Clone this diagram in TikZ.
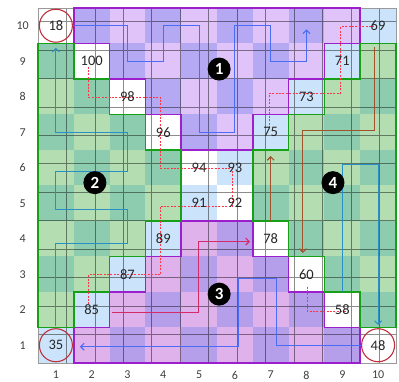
\documentclass[tikz,border=0pt]{standalone}
\usepackage{fontspec}
\setmainfont{Carlito}
\usetikzlibrary{arrows.meta}
\definecolor{ra}{HTML}{E0C3F8}
\definecolor{rb}{HTML}{B6A9F4}
\definecolor{rc}{HTML}{DFB2EC}
\definecolor{rd}{HTML}{B59EEA}
\definecolor{ga}{HTML}{B4DEB2}
\definecolor{gb}{HTML}{8ECCB0}
\definecolor{lb}{HTML}{CCE4FB}
\definecolor{pborder}{HTML}{9B1FCB}
\definecolor{gborder}{HTML}{17A017}
\definecolor{circ}{HTML}{C0303C}
\definecolor{pblue}{HTML}{4A6CF7}
\definecolor{tblue}{HTML}{2A90C4}
\definecolor{brn}{HTML}{A0522D}
\definecolor{crim}{HTML}{D42A6A}
\definecolor{dotred}{HTML}{FF3548}
\begin{document}
\begin{tikzpicture}[x=35.8pt,y=35.5pt,
  cellnum/.style={font=\fontsize{14.5}{14.5}\selectfont, text=black!85, inner sep=0pt},
  axislbl/.style={font=\fontsize{12}{12}\selectfont, text=black!75, inner sep=0pt},
  ring/.style={circle, draw=circ, line width=1.1pt, minimum size=33pt, inner sep=0pt, font=\fontsize{14.5}{14.5}\selectfont, text=black!85},
  marker/.style={circle, fill=black, text=white, minimum size=23pt, inner sep=0pt, font=\bfseries\fontsize{17}{17}\selectfont},
  flow/.style={line width=1.1pt, -{Straight Barb[length=3.5pt,width=7pt]}},
  dots/.style={draw=dotred, line width=1pt, dash pattern=on 2pt off 1.4pt},
  pregion/.style={draw=pborder, line width=1.6pt, line join=miter},
  gregion/.style={draw=gborder, line width=1.6pt, line join=miter},
  gridline/.style={black, opacity=0.45, line width=0.7pt}
]
\useasboundingbox (-1.061,-0.535) rectangle (10.084,10.225);
\fill[white] (-1.061,-0.535) rectangle (10.084,10.225);
% region 1
\foreach \r/\a/\b in {10/2/9, 9/3/8, 8/4/7, 7/5/6}
  \foreach \c in {\a,...,\b}{
    \ifodd\numexpr\c+\r\relax \fill[ra] (\c-1,\r-1) rectangle (\c,\r);
    \else \fill[rb] (\c-1,\r-1) rectangle (\c,\r); \fi
  }
% region 3
\foreach \r/\a/\b in {4/5/6, 3/4/7, 2/3/8, 1/2/9}
  \foreach \c in {\a,...,\b}{
    \ifodd\numexpr\c+\r\relax \fill[rc] (\c-1,\r-1) rectangle (\c,\r);
    \else \fill[rd] (\c-1,\r-1) rectangle (\c,\r); \fi
  }
% regions 2 and 4
\foreach \r/\a/\b in {9/1/1, 8/1/2, 7/1/3, 6/1/4, 5/1/4, 4/1/3, 3/1/2, 2/1/1,
                      9/10/10, 8/9/10, 7/8/10, 6/7/10, 5/7/10, 4/8/10, 3/9/10, 2/10/10}
  \foreach \c in {\a,...,\b}{
    \ifodd\numexpr\c+\r\relax \fill[ga] (\c-1,\r-1) rectangle (\c,\r);
    \else \fill[gb] (\c-1,\r-1) rectangle (\c,\r); \fi
  }
% light blue diagonal
\foreach \c in {1,...,10}{ \fill[lb] (\c-1,\c-1) rectangle (\c,\c); }
% grid
\draw[gridline] (0,0) grid (10,10);
\draw[black!40, line width=0.9pt] (0,0) rectangle (10,10);
% region borders
\draw[pregion] (1,10) -- (9,10) -- (9,9) -- (8,9) -- (8,8) -- (7,8) -- (7,7) -- (6,7) -- (6,6) -- (4,6) -- (4,7) -- (3,7) -- (3,8) -- (2,8) -- (2,9) -- (1,9) -- cycle;
\draw[pregion] (1,0) -- (9,0) -- (9,1) -- (8,1) -- (8,2) -- (7,2) -- (7,3) -- (6,3) -- (6,4) -- (4,4) -- (4,3) -- (3,3) -- (3,2) -- (2,2) -- (2,1) -- (1,1) -- cycle;
\draw[gregion] (0,9) -- (1,9) -- (1,8) -- (2,8) -- (2,7) -- (3,7) -- (3,6) -- (4,6) -- (4,4) -- (3,4) -- (3,3) -- (2,3) -- (2,2) -- (1,2) -- (1,1) -- (0,1) -- cycle;
\draw[gregion] (10,9) -- (9,9) -- (9,8) -- (8,8) -- (8,7) -- (7,7) -- (7,6) -- (6,6) -- (6,4) -- (7,4) -- (7,3) -- (8,3) -- (8,2) -- (9,2) -- (9,1) -- (10,1) -- cycle;
% axis labels
\foreach \i in {1,...,10}{
  \node[axislbl] (row\i) at (-0.43,\i-0.5) {\i};
  \node[axislbl] (col\i) at (\i-0.5,-0.34) {\i};
}
% circled cells
\node[ring] (n18) at (0.5,9.5) {18};
\node[ring] (n35) at (0.5,0.5) {35};
\node[ring] (n48) at (9.5,0.5) {48};
% named end points
\coordinate (bS) at (0.5,1.03);
\coordinate (bE) at (0.5,8.88);
\coordinate (aE) at (7.5,9.4);
\coordinate (cS) at (8.5,2.0);
\coordinate (cE) at (9.5,1.07);
\coordinate (dS) at (9.4,8.9);
\coordinate (dE) at (7.4,3.1);
\coordinate (eS) at (6.5,4.0);
\coordinate (eE) at (6.5,5.83);
\coordinate (fS) at (2.06,1.43);
\coordinate (fE) at (5.92,3.42);
\coordinate (gE) at (1.17,0.46);
\coordinate (hS) at (1.42,8.35);
\coordinate (hE) at (1.42,1.62);
\coordinate (iS) at (6.47,6.62);
\coordinate (iE) at (9.4,9.47);
\coordinate (jS) at (7.52,2.15);
\coordinate (jE) at (8.6,1.45);
% dotted chains
\draw[dots] (hS) -- (1.42,7.47) -- (3.43,7.47) -- (3.43,5.48) -- (5.44,5.48) -- (5.44,4.42) -- (3.41,4.42) -- (3.41,2.48) -- (1.42,2.48) -- (hE);
\draw[dots] (iS) -- (6.47,7.6) -- (8.46,7.6) -- (8.46,9.47) -- (iE);
\draw[dots] (jS) -- (7.52,1.45) -- (jE);
% flows
\draw[flow,pblue] (n18.east) -| (2.5,8.5) -| (3.5,9.5) -| (4.5,6.5) -| (5.5,9.5) -| (6.5,8.5) -| (aE);
\draw[flow,tblue] (bS) -- (0.5,3.37) -- (2.5,3.37) -- (2.5,4.33) -- (0.5,4.33) -- (0.5,5.4) -- (2.5,5.4) -- (2.5,6.5) -- (0.5,6.5) -- (bE);
\draw[flow,tblue] (cS) -- (8.5,5.58) -- (9.5,5.58) -- (cE);
\draw[flow,brn] (dS) -- (9.4,6.54) -- (7.4,6.54) -- (dE);
\draw[flow,brn] (eS) -- (eE);
\draw[flow,crim] (fS) -- (4.48,1.43) -- (4.48,3.42) -- (fE);
\draw[flow,pblue] (n48.west) -- (6.65,0.5) -- (6.65,2.37) -- (5.6,2.37) -- (5.6,0.46) -- (gE);
% numbers
\node[cellnum] (n100) at (1.5,8.5) {100};
\node[cellnum] (n98) at (2.5,7.5) {98};
\node[cellnum] (n96) at (3.5,6.5) {96};
\node[cellnum] (n94) at (4.5,5.5) {94};
\node[cellnum] (n93) at (5.5,5.5) {93};
\node[cellnum] (n91) at (4.5,4.5) {91};
\node[cellnum] (n92) at (5.5,4.5) {92};
\node[cellnum] (n89) at (3.5,3.5) {89};
\node[cellnum] (n87) at (2.5,2.5) {87};
\node[cellnum] (n85) at (1.5,1.5) {85};
\node[cellnum] (n58) at (8.5,1.5) {58};
\node[cellnum] (n60) at (7.5,2.5) {60};
\node[cellnum] (n78) at (6.5,3.5) {78};
\node[cellnum] (n75) at (6.5,6.5) {75};
\node[cellnum] (n73) at (7.5,7.5) {73};
\node[cellnum] (n71) at (8.5,8.5) {71};
\node[cellnum] (n69) at (9.5,9.5) {69};
% region markers
\node[marker] (m1) at (5.06,8.28) {1};
\node[marker] (m2) at (1.59,5.08) {2};
\node[marker] (m3) at (5.06,1.94) {3};
\node[marker] (m4) at (8.24,5.08) {4};
\end{tikzpicture}
\end{document}
